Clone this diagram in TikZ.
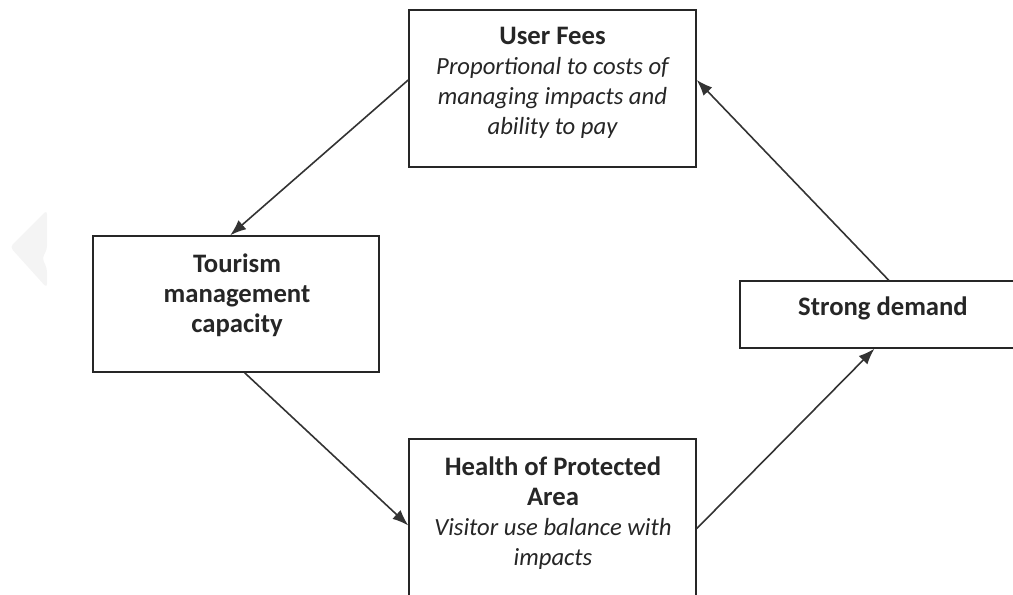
\documentclass[tikz,border=0pt]{standalone}
\usepackage{fontspec}
\setmainfont{Carlito}
\usetikzlibrary{arrows.meta,calc}
\begin{document}
\begin{tikzpicture}[x=0.75pt,y=-0.75pt,
  box/.style={draw=black!85,line width=1.1pt,inner sep=0pt,fill=white},
  txt/.style={align=center,text=black!85,inner sep=0pt,font=\fontsize{18.5}{22.5}\selectfont},
  ttl/.style={font=\fontsize{20}{22.5}\selectfont\bfseries},
  conn/.style={draw=black!80,line width=1.2pt,-{Latex[length=12pt,width=9pt]}}]
\useasboundingbox (0,0) rectangle (1013,594);
% faint chevron
\fill[gray!9,rounded corners=3pt] (47,210) -- (10,247) -- (47,288) -- (47,268) -- (42,258) -- (47,250) -- cycle;
% boxes
\node[box,minimum width=215.25pt,minimum height=117.75pt] (top) at (552.5,88.5) {};
\node[box,minimum width=214.5pt,minimum height=102pt] (left) at (236,304) {};
\node[box,minimum width=214.5pt,minimum height=50.25pt] (right) at (883,314.5) {};
\node[box,minimum width=215.25pt,minimum height=117.75pt] (bottom) at (552.5,517.5) {};
% texts
\node[txt] (toptxt) at (552.5,82.5) {{\fontsize{20}{22.5}\selectfont\bfseries User Fees}\\ \itshape Proportional to costs of\\ \itshape managing impacts and\\ \itshape ability to pay};
\node[txt,ttl] (lefttxt) at (237,295) {Tourism\\ management\\ capacity};
\node[txt,ttl] (righttxt) at (883,308) {Strong demand};
\node[txt] (bottomtxt) at (553,513.5) {{\fontsize{20}{22.5}\selectfont\bfseries Health of Protected}\\ {\fontsize{20}{22.5}\selectfont\bfseries Area}\\ \itshape Visitor use balance with\\ \itshape impacts};
% connectors
\draw[conn] ($(top.north west)!0.446!(top.south west)$) -- ($(left.north west)!0.48!(left.north east)$);
\draw[conn] ($(left.south west)!0.53!(left.south east)$) -- ($(bottom.north west)!0.55!(bottom.south west)$);
\draw[conn] ($(bottom.north east)!0.57!(bottom.south east)$) -- ($(right.south west)!0.47!(right.south east)$);
\draw[conn] ($(right.north west)!0.52!(right.north east)$) -- ($(top.north east)!0.446!(top.south east)$);
\end{tikzpicture}
\end{document}
